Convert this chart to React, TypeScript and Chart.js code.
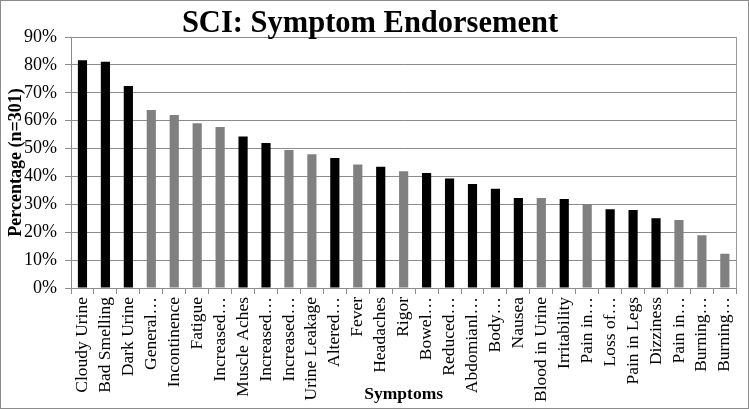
import React, { useEffect, useRef } from "react";
import { Chart, registerables } from "chart.js";

Chart.register(...registerables);

const categories = [
  "Cloudy Urine", "Bad Smelling", "Dark Urine", "General…", "Incontinence",
  "Fatigue", "Increased…", "Muscle Aches", "Increased…", "Increased…",
  "Urine Leakage", "Altered…", "Fever", "Headaches", "Rigor",
  "Bowel…", "Reduced…", "Abdomianl…", "Body…", "Nausea",
  "Blood in Urine", "Irritability", "Pain in…", "Loss of…", "Pain in Legs",
  "Dizziness", "Pain in…", "Burning…", "Burning…",
];

const percentages = [
  81.7, 81.1, 72.4, 63.8, 62.0,
  59.1, 57.7, 54.3, 52.0, 49.5,
  48.0, 46.6, 44.3, 43.5, 41.9,
  41.2, 39.3, 37.3, 35.6, 32.3,
  32.3, 31.9, 30.1, 28.2, 28.0,
  25.0, 24.4, 18.9, 12.3,
];

// "B" = black bar, "G" = gray bar
const barShades = [
  "B", "B", "B", "G", "G",
  "G", "G", "B", "B", "G",
  "G", "B", "G", "B", "G",
  "B", "B", "B", "B", "B",
  "G", "B", "G", "B", "B",
  "B", "G", "G", "G",
];

const yTicks = [0, 10, 20, 30, 40, 50, 60, 70, 80, 90];

const FONT = "'Liberation Serif', 'DejaVu Serif', serif";

const borderPlugin = {
  id: "outerBorder",
  afterDraw(chart: any) {
    const { ctx, width, height, chartArea } = chart;
    ctx.save();
    ctx.strokeStyle = "#8c8c8c";
    ctx.lineWidth = 1;
    ctx.strokeRect(0.5, 0.5, width - 1, height - 1);
    ctx.strokeStyle = "#9a9a9a";
    ctx.beginPath();
    ctx.moveTo(Math.round(chartArea.right) + 0.5, chartArea.top);
    ctx.lineTo(Math.round(chartArea.right) + 0.5, chartArea.bottom);
    ctx.stroke();
    ctx.restore();
  },
};

export default function App() {
  const ref = useRef<HTMLCanvasElement>(null);

  useEffect(() => {
    document.body.style.margin = "0";
    const canvas = ref.current!;
    const chart = new Chart(canvas, {
      type: "bar",
      data: {
        labels: categories,
        datasets: [
          {
            data: percentages,
            backgroundColor: barShades.map((s) => (s === "B" ? "#000000" : "#808080")),
            barPercentage: 0.4,
            categoryPercentage: 1.0,
          },
        ],
      },
      plugins: [borderPlugin],
      options: {
        responsive: false,
        animation: false,
        devicePixelRatio: 1,
        layout: { padding: { left: 0, right: 9, top: 0, bottom: 4 } },
        plugins: {
          legend: { display: false },
          tooltip: { enabled: false },
          title: {
            display: true,
            text: "SCI: Symptom Endorsement",
            color: "#000",
            font: { family: FONT, size: 30.5, weight: "bold" },
            padding: { top: 6, bottom: -5.6 },
          },
        },
        scales: {
          x: {
            afterFit(scale: any) {
              scale.height = 117;
            },
            grid: {
              offset: true,
              drawOnChartArea: false,
              drawTicks: true,
              tickLength: 6,
              color: "#8c8c8c",
            },
            border: { color: "#8c8c8c" },
            ticks: {
              autoSkip: false,
              maxRotation: 90,
              minRotation: 90,
              color: "#000",
              font: { family: FONT, size: 17.5 },
              padding: 3,
            },
            title: {
              display: true,
              text: "Symptoms",
              color: "#000",
              font: { family: FONT, size: 17.5, weight: "bold" },
              padding: { top: 0, bottom: 0 },
            },
          },
          y: {
            min: 0,
            max: 90,
            afterFit(scale: any) {
              scale.width = 71;
            },
            afterBuildTicks(axis: any) {
              axis.ticks = yTicks.map((v) => ({ value: v }));
            },
            grid: {
              color: "#8c8c8c",
              tickLength: 6,
            },
            border: { color: "#8c8c8c" },
            ticks: {
              color: "#000",
              font: { family: FONT, size: 18 },
              padding: 8,
              callback: (v: any) => v + "%",
            },
            title: {
              display: true,
              text: "Percentage (n=301)",
              color: "#000",
              font: { family: FONT, size: 18, weight: "bold" },
              padding: { top: 6, bottom: 0 },
            },
          },
        },
      },
    });
    return () => chart.destroy();
  }, []);

  return (
    <div style={{ width: 749, height: 409 }}>
      <canvas ref={ref} width={749} height={409} style={{ display: "block" }} />
    </div>
  );
}
